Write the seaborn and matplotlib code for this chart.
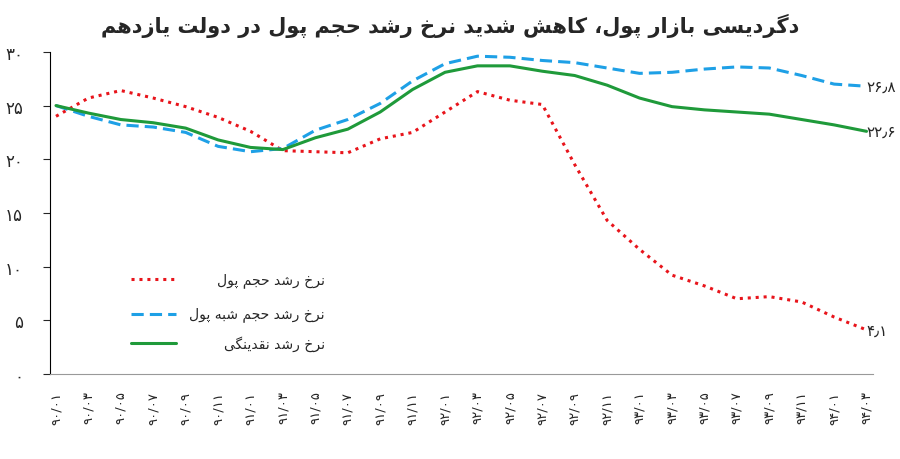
import matplotlib
matplotlib.use('Agg')
import matplotlib.pyplot as plt
import seaborn as sns
import pandas as pd

title = "دگردیسی بازار پول، کاهش شدید نرخ رشد حجم پول در دولت یازدهم"
series_names = ["نرخ رشد حجم پول", "نرخ رشد حجم شبه پول", "نرخ رشد نقدینگی"]
tick_labels = ["۹۰/۰۱", "۹۰/۰۳", "۹۰/۰۵", "۹۰/۰۷", "۹۰/۰۹", "۹۰/۱۱",
               "۹۱/۰۱", "۹۱/۰۳", "۹۱/۰۵", "۹۱/۰۷", "۹۱/۰۹", "۹۱/۱۱",
               "۹۲/۰۱", "۹۲/۰۳", "۹۲/۰۵", "۹۲/۰۷", "۹۲/۰۹", "۹۲/۱۱",
               "۹۳/۰۱", "۹۳/۰۳", "۹۳/۰۵", "۹۳/۰۷", "۹۳/۰۹", "۹۳/۱۱",
               "۹۴/۰۱", "۹۴/۰۳"]
money = [24.0, 25.7, 26.4, 25.7, 24.9, 23.9, 22.6, 20.8, 20.7, 20.6, 21.9, 22.5, 24.4,
         26.3, 25.5, 25.1, 19.5, 14.3, 11.6, 9.2, 8.2, 7.0, 7.2, 6.7, 5.3, 4.1]
quasi = [25.0, 24.0, 23.2, 23.0, 22.5, 21.2, 20.7, 21.0, 22.7, 23.7, 25.2, 27.3, 28.9,
         29.6, 29.5, 29.2, 29.0, 28.5, 28.0, 28.1, 28.4, 28.6, 28.5, 27.8, 27.0, 26.8]
liquidity = [25.0, 24.3, 23.7, 23.4, 22.9, 21.8, 21.1, 20.9, 22.0, 22.8, 24.4, 26.5, 28.1,
             28.7, 28.7, 28.2, 27.8, 26.9, 25.7, 24.9, 24.6, 24.4, 24.2, 23.7, 23.2, 22.6]
end_labels = ["۴٫۱", "۲۶٫۸", "۲۲٫۶"]
y_ticks = [0, 5, 10, 15, 20, 25, 30]

# tiny Arabic/Persian shaper: (isolated, final, initial, medial)
FORMS = {
    'ا': (0xFE8D, 0xFE8E, None, None), 'ب': (0xFE8F, 0xFE90, 0xFE91, 0xFE92),
    'پ': (0xFB56, 0xFB57, 0xFB58, 0xFB59), 'ت': (0xFE95, 0xFE96, 0xFE97, 0xFE98),
    'ج': (0xFE9D, 0xFE9E, 0xFE9F, 0xFEA0), 'ح': (0xFEA1, 0xFEA2, 0xFEA3, 0xFEA4),
    'خ': (0xFEA5, 0xFEA6, 0xFEA7, 0xFEA8), 'د': (0xFEA9, 0xFEAA, None, None),
    'ذ': (0xFEAB, 0xFEAC, None, None), 'ر': (0xFEAD, 0xFEAE, None, None),
    'ز': (0xFEAF, 0xFEB0, None, None), 'س': (0xFEB1, 0xFEB2, 0xFEB3, 0xFEB4),
    'ش': (0xFEB5, 0xFEB6, 0xFEB7, 0xFEB8), 'ق': (0xFED5, 0xFED6, 0xFED7, 0xFED8),
    'ک': (0xFB8E, 0xFB8F, 0xFB90, 0xFB91), 'گ': (0xFB92, 0xFB93, 0xFB94, 0xFB95),
    'ل': (0xFEDD, 0xFEDE, 0xFEDF, 0xFEE0), 'م': (0xFEE1, 0xFEE2, 0xFEE3, 0xFEE4),
    'ن': (0xFEE5, 0xFEE6, 0xFEE7, 0xFEE8), 'ه': (0xFEE9, 0xFEEA, 0xFEEB, 0xFEEC),
    'و': (0xFEED, 0xFEEE, None, None), 'ی': (0xFBFC, 0xFBFD, 0xFBFE, 0xFBFF),
}


def shape(text):
    out = []
    for i, ch in enumerate(text):
        if ch not in FORMS:
            out.append(ch)
            continue
        prev = text[i - 1] if i > 0 else ''
        nxt = text[i + 1] if i + 1 < len(text) else ''
        joins_prev = prev in FORMS and FORMS[prev][2] is not None
        joins_next = nxt in FORMS and FORMS[ch][2] is not None
        f = FORMS[ch]
        if joins_prev and joins_next:
            code = f[3]
        elif joins_prev:
            code = f[1]
        elif joins_next:
            code = f[2]
        else:
            code = f[0]
        out.append(chr(code))
    return ''.join(reversed(out))


rows = []
for name, vals in zip(series_names, [money, quasi, liquidity]):
    for i, v in enumerate(vals):
        rows.append({"x": i, "value": v, "series": shape(name)})
df = pd.DataFrame(rows)

sns.set_style("white")
plt.rcParams["font.family"] = "DejaVu Sans"
fig = plt.figure(figsize=(9, 4.6), dpi=100)
ax = fig.add_axes([0.055, 0.185, 0.915, 0.70])

palette = ["#e8141b", "#1ea0e6", "#1f9a3a"]
sns.lineplot(data=df, x="x", y="value", hue="series", palette=palette, ax=ax, legend=False)
styles = [(0, (1, 1.6)), (0, (4, 2)), "-"]
for line, ls in zip(ax.get_lines(), styles):
    line.set_linestyle(ls)
    line.set_linewidth(2.2)

ax.set_ylim(0, 30)
ax.set_xlim(-0.2, len(tick_labels) - 0.8)
ax.set_yticks(y_ticks)
ax.set_yticklabels([str(t).translate(str.maketrans("0123456789", "۰۱۲۳۴۵۶۷۸۹")) for t in y_ticks], fontsize=12)
ax.set_xticks(range(len(tick_labels)))
ax.set_xticklabels(tick_labels, rotation=90, fontsize=9.5)
ax.tick_params(axis="y", length=5, direction="out", left=True, pad=14)
ax.tick_params(axis="x", length=0, pad=12)
for s in ["top", "right"]:
    ax.spines[s].set_visible(False)
ax.spines["left"].set_color("black")
ax.spines["bottom"].set_color("#999999")
ax.set_xlabel("")
ax.set_ylabel("")

last = len(tick_labels) - 1
for vals, lab in zip([money, quasi, liquidity], end_labels):
    ax.text(last, vals[-1], lab, fontsize=11, va="center", ha="left")

# legend
ly = [8.8, 5.6, 2.9]
for name, col, ls, y in zip(series_names, palette, styles, ly):
    ax.plot([2.3, 3.7], [y, y], color=col, linestyle=ls, linewidth=2.2)
    ax.text(8.3, y, shape(name), fontsize=10, va="center", ha="right")

fig.suptitle(shape(title), fontsize=15, fontweight="bold", y=0.97)
fig.savefig("out.png", dpi=100)
